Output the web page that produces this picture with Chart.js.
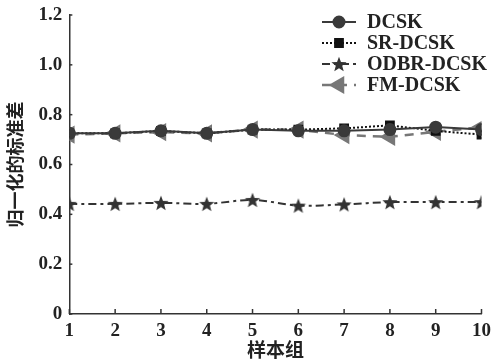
<!DOCTYPE html>
<html>
<head>
<meta charset="utf-8">
<script src="https://cdn.jsdelivr.net/npm/chart.js@4"></script>
<style>
  html, body { margin: 0; padding: 0; background: #fff; }
  #wrap { width: 492px; height: 359px; }
</style>
</head>
<body>
<div id="wrap"><canvas id="chart"></canvas></div>
<script>
const samples = [1, 2, 3, 4, 5, 6, 7, 8, 9, 10];
const dcsk = [0.725, 0.725, 0.735, 0.725, 0.74, 0.735, 0.735, 0.74, 0.75, 0.74];
const srDcsk = [0.725, 0.725, 0.735, 0.725, 0.74, 0.74, 0.745, 0.757, 0.735, 0.72];
const odbrDcsk = [0.442, 0.442, 0.446, 0.442, 0.458, 0.435, 0.44, 0.449, 0.449, 0.449];
const fmDcsk = [0.72, 0.725, 0.73, 0.725, 0.74, 0.74, 0.718, 0.711, 0.731, 0.75];
const seriesNames = ["DCSK", "SR-DCSK", "ODBR-DCSK", "FM-DCSK"];
const yTicks = [0, 0.2, 0.4, 0.6, 0.8, 1.0, 1.2];

const serif = "'Liberation Serif', 'DejaVu Serif', serif";
const cjk = "'Noto Sans CJK SC', sans-serif";

// filled five point star for ODBR markers
function makeStar(r, color) {
  const c = document.createElement("canvas");
  c.width = c.height = r * 2 + 2;
  const g = c.getContext("2d");
  g.fillStyle = color;
  g.beginPath();
  for (let i = 0; i < 10; i++) {
    const rad = i % 2 === 0 ? r : r * 0.42;
    const a = -Math.PI / 2 + i * Math.PI / 5;
    const px = r + 1 + rad * Math.cos(a);
    const py = r + 1 + rad * Math.sin(a) + r * 0.1;
    if (i === 0) g.moveTo(px, py); else g.lineTo(px, py);
  }
  g.closePath();
  g.fill();
  return c;
}
const star = makeStar(8, "#333");

const toPts = arr => arr.map((v, i) => ({ x: samples[i], y: v }));

const datasets = [
  { label: seriesNames[0], data: toPts(dcsk), borderColor: "#3a3a3a", backgroundColor: "#3a3a3a",
    borderWidth: 2, pointStyle: "circle", pointRadius: 5.5, borderDash: [] },
  { label: seriesNames[1], data: toPts(srDcsk), borderColor: "#111", backgroundColor: "#111",
    borderWidth: 2, pointStyle: "rect", pointRadius: 5.5, borderDash: [2, 2] },
  { label: seriesNames[2], data: toPts(odbrDcsk), borderColor: "#333", backgroundColor: "#333",
    borderWidth: 2, pointStyle: star, pointRadius: 8, borderDash: [8, 4, 3, 4], tension: 0.3 },
  { label: seriesNames[3], data: toPts(fmDcsk), borderColor: "#777", backgroundColor: "#777",
    borderWidth: 2.5, pointStyle: "triangle", pointRotation: 270, pointRadius: 8, borderDash: [9, 7] }
];

// inward ticks on both axes
const innerTicks = {
  id: "innerTicks",
  afterDatasetsDraw(chart) {
    const { ctx, chartArea, scales } = chart;
    ctx.save();
    ctx.strokeStyle = "#333";
    ctx.lineWidth = 1.5;
    samples.forEach(v => {
      const x = scales.x.getPixelForValue(v);
      ctx.beginPath();
      ctx.moveTo(x, chartArea.bottom);
      ctx.lineTo(x, chartArea.bottom - 5);
      ctx.stroke();
    });
    yTicks.forEach(v => {
      const y = scales.y.getPixelForValue(v);
      ctx.beginPath();
      ctx.moveTo(chartArea.left, y);
      ctx.lineTo(chartArea.left + 3, y);
      ctx.stroke();
    });
    ctx.restore();
  }
};

// legend with line + marker samples, top right
const lineLegend = {
  id: "lineLegend",
  afterDraw(chart) {
    const { ctx } = chart;
    const x0 = 322, x1 = 356, tx = 367;
    const rows = [22, 43, 64, 85];
    ctx.save();
    chart.data.datasets.forEach((ds, i) => {
      const y = rows[i];
      ctx.strokeStyle = ds.borderColor;
      ctx.lineWidth = ds.borderWidth;
      ctx.setLineDash(ds.borderDash);
      ctx.beginPath();
      ctx.moveTo(x0, y);
      ctx.lineTo(x1, y);
      ctx.stroke();
      ctx.setLineDash([]);
      ctx.fillStyle = ds.backgroundColor;
      Chart.helpers.drawPoint(ctx, {
        pointStyle: ds.pointStyle, radius: ds.pointRadius,
        rotation: ds.pointRotation || 0, borderWidth: 1
      }, (x0 + x1) / 2, y);
      ctx.fillStyle = "#222";
      ctx.font = "bold 20px " + serif;
      ctx.textBaseline = "middle";
      ctx.fillText(ds.label, tx, y + 1);
    });
    ctx.restore();
  }
};

new Chart(document.getElementById("chart"), {
  type: "line",
  data: { datasets: datasets },
  options: {
    responsive: true,
    maintainAspectRatio: false,
    animation: false,
    layout: { padding: { top: 0, right: 0, left: 4, bottom: 0 } },
    plugins: { legend: { display: false }, tooltip: { enabled: false } },
    scales: {
      x: {
        type: "linear", min: 1, max: 10,
        border: { color: "#333", width: 1.5 },
        grid: { display: false, drawTicks: false },
        afterFit: axis => { axis.paddingRight = 10; },
        ticks: { stepSize: 1, color: "#222", padding: 8,
                 font: { family: serif, size: 19, weight: "bold", lineHeight: 1 } },
        title: { display: true, text: "样本组", color: "#222", padding: { top: -9, bottom: 0 },
                 font: { family: cjk, size: 19, weight: "bold", lineHeight: 1 } }
      },
      y: {
        min: 0, max: 1.2,
        border: { color: "#333", width: 1.5 },
        grid: { display: false, drawTicks: false },
        afterBuildTicks: axis => { axis.ticks = yTicks.map(v => ({ value: v })); },
        afterFit: axis => { axis.paddingTop = 15; },
        ticks: { color: "#222", padding: 7, font: { family: serif, size: 19, weight: "bold" },
                 callback: v => v === 0 ? "0" : v.toFixed(1) },
        title: { display: true, text: "归一化的标准差", color: "#222", padding: { top: 0, bottom: 6 },
                 font: { family: cjk, size: 18, weight: "bold" } }
      }
    }
  },
  plugins: [innerTicks, lineLegend]
});
</script>
</body>
</html>
